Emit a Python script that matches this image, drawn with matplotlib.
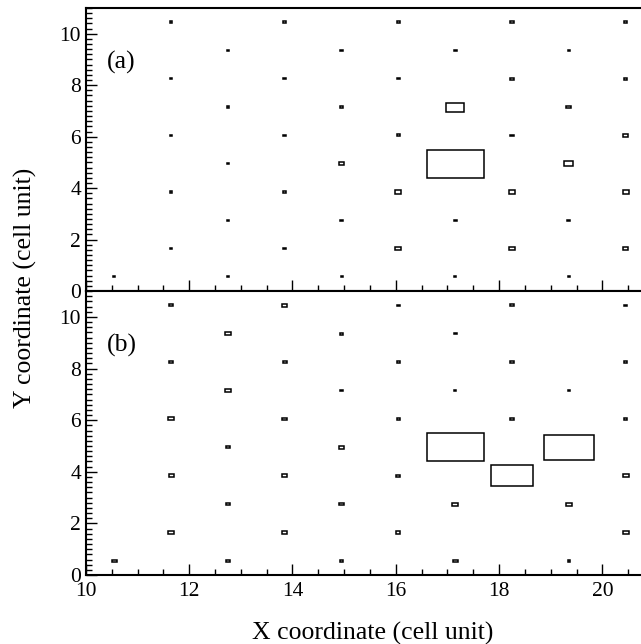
import numpy as np
import matplotlib

matplotlib.use('Agg')
import matplotlib.pyplot as plt
from matplotlib.patches import Rectangle
from matplotlib.ticker import MultipleLocator

plt.rcParams['font.family'] = ['Liberation Serif', 'DejaVu Serif']

# lattice sites (cell units) and square side of each site, panel (a)
xa = [10.55,
      11.65, 11.65, 11.65, 11.65, 11.65,
      12.75, 12.75, 12.75, 12.75, 12.75,
      13.85, 13.85, 13.85, 13.85, 13.85,
      14.95, 14.95, 14.95, 14.95, 14.95,
      16.05, 16.05, 16.05, 16.05, 16.05,
      17.15, 17.15, 17.15, 17.15, 17.15,
      18.25, 18.25, 18.25, 18.25, 18.25,
      19.35, 19.35, 19.35, 19.35, 19.35,
      20.45, 20.45, 20.45, 20.45, 20.45]
ya = [0.55,
      1.65, 3.85, 6.05, 8.25, 10.45,
      0.55, 2.75, 4.95, 7.15, 9.35,
      1.65, 3.85, 6.05, 8.25, 10.45,
      0.55, 2.75, 4.95, 7.15, 9.35,
      1.65, 3.85, 6.05, 8.25, 10.45,
      0.55, 2.75, 4.95, 7.15, 9.35,
      1.65, 3.85, 6.05, 8.25, 10.45,
      0.55, 2.75, 4.95, 7.15, 9.35,
      1.65, 3.85, 6.05, 8.25, 10.45]
sa = [0.04,
      0.05, 0.05, 0.05, 0.05, 0.05,
      0.04, 0.04, 0.04, 0.05, 0.04,
      0.05, 0.06, 0.05, 0.05, 0.05,
      0.04, 0.06, 0.11, 0.06, 0.06,
      0.12, 0.12, 0.07, 0.05, 0.05,
      0.04, 0.06, 1.10, 0.35, 0.06,
      0.12, 0.12, 0.06, 0.06, 0.06,
      0.04, 0.06, 0.18, 0.09, 0.05,
      0.10, 0.12, 0.10, 0.07, 0.07]

# panel (b)
xb = [10.55,
      11.65, 11.65, 11.65, 11.65, 11.65,
      12.75, 12.75, 12.75, 12.75, 12.75,
      13.85, 13.85, 13.85, 13.85, 13.85,
      14.95, 14.95, 14.95, 14.95, 14.95,
      16.05, 16.05, 16.05, 16.05, 16.05,
      17.15, 17.15, 17.15, 17.15, 17.15,
      18.25, 18.25, 18.25, 18.25,
      19.35, 19.35, 19.35, 19.35,
      20.45, 20.45, 20.45, 20.45, 20.45]
yb = [0.55,
      1.65, 3.85, 6.05, 8.25, 10.45,
      0.55, 2.75, 4.95, 7.15, 9.35,
      1.65, 3.85, 6.05, 8.25, 10.45,
      0.55, 2.75, 4.95, 7.15, 9.35,
      1.65, 3.85, 6.05, 8.25, 10.45,
      0.55, 2.75, 4.95, 7.15, 9.35,
      3.85, 6.05, 8.25, 10.45,
      0.55, 2.75, 4.95, 7.15,
      1.65, 3.85, 6.05, 8.25, 10.45]
sb = [0.09,
      0.12, 0.10, 0.12, 0.07, 0.09,
      0.09, 0.09, 0.09, 0.10, 0.12,
      0.10, 0.10, 0.09, 0.07, 0.10,
      0.05, 0.10, 0.10, 0.07, 0.07,
      0.08, 0.08, 0.05, 0.05, 0.05,
      0.09, 0.12, 1.10, 0.05, 0.06,
      0.82, 0.07, 0.08, 0.08,
      0.05, 0.12, 0.96, 0.05,
      0.12, 0.12, 0.07, 0.05, 0.06]


def DrawSites(ax, x, y, s):
    for xi, yi, si in zip(x, y, s):
        ax.add_patch(Rectangle((xi - si / 2, yi - si / 2), si, si,
                               fill=False, edgecolor='black', linewidth=1.1))


def StyleAxes(ax):
    ax.set_xlim(10, 21.12)
    ax.set_ylim(0, 11)
    ax.xaxis.set_major_locator(MultipleLocator(2))
    ax.xaxis.set_minor_locator(MultipleLocator(0.5))
    ax.yaxis.set_major_locator(MultipleLocator(2))
    ax.yaxis.set_minor_locator(MultipleLocator(0.2))
    ax.tick_params(which='both', direction='in', top=False, right=False,
                   labelsize=15.5, width=1.0)
    ax.tick_params(which='major', length=8)
    ax.tick_params(which='minor', length=4)
    ax.spines['right'].set_visible(False)
    for sp in ['left', 'bottom', 'top']:
        ax.spines[sp].set_linewidth(1.5)


Figure = plt.figure(figsize=(6.41, 6.44), dpi=100)
ax1 = Figure.add_axes([0.134, 0.548, 0.896, 0.4396])
ax2 = Figure.add_axes([0.134, 0.107, 0.896, 0.441])

DrawSites(ax1, xa, ya, sa)
DrawSites(ax2, xb, yb, sb)
StyleAxes(ax1)
StyleAxes(ax2)
ax1.tick_params(labelbottom=False)
ax2.tick_params(axis='x', pad=5)

ax1.text(10.4, 8.9, '(a)', fontsize=18.5, ha='left', va='center')
ax2.text(10.4, 8.9, '(b)', fontsize=18.5, ha='left', va='center')

Figure.text(0.582, 0.016, 'X coordinate (cell unit)', fontsize=18.5,
            ha='center', va='center')
Figure.text(0.04, 0.553, 'Y coordinate (cell unit)', fontsize=18.5,
            ha='center', va='center', rotation=90)

Figure.savefig('out.png', dpi=100)
